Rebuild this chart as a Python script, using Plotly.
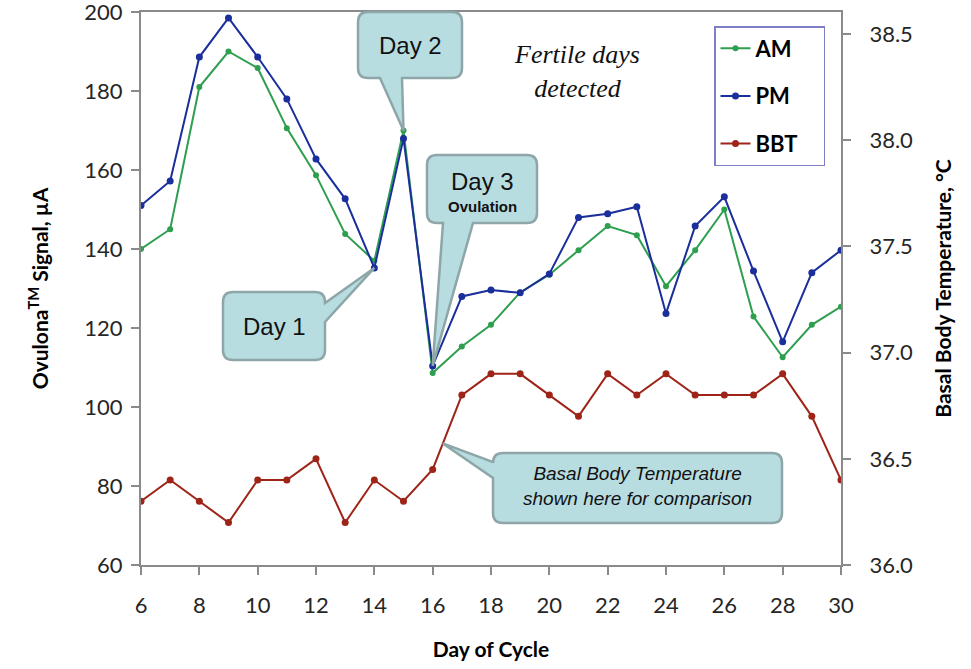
import plotly.graph_objects as go

# ---------------- data ----------------
days = list(range(6, 31))
am = [140, 145, 181, 190, 185.8, 170.6, 158.7, 143.8, 137, 170, 108.6, 115.3, 120.8,
      129, 133.5, 139.7, 145.8, 143.5, 130.6, 139.7, 150, 122.9, 112.6, 120.8, 125.4]
pm = [151, 157.2, 188.6, 198.5, 188.6, 178, 162.8, 152.7, 135.2, 168, 110.4, 128, 129.6,
      128.9, 133.7, 148, 148.9, 150.7, 123.7, 145.8, 153.2, 134.4, 116.5, 134, 139.7]
bbt = [36.3, 36.4, 36.3, 36.2, 36.4, 36.4, 36.5, 36.2, 36.4, 36.3, 36.45, 36.8, 36.9,
       36.9, 36.8, 36.7, 36.9, 36.8, 36.9, 36.8, 36.8, 36.8, 36.9, 36.7, 36.4]

x_ticks = list(range(6, 31, 2))
y1_ticks = list(range(60, 201, 20))
y2_ticks = [36.0, 36.5, 37.0, 37.5, 38.0, 38.5]

X_RANGE = [6, 30]
Y1_RANGE = [60, 200]
Y2_RANGE = [36.0, 38.604]

# ---------------- geometry ----------------
W, H = 971, 669
L, R, T, B = 141, 841, 12, 565


def px2paper(px, py):
    return (px - L) / (R - L), (B - py) / (B - T)


def data2px(x, y, yr=Y1_RANGE):
    px = L + (x - X_RANGE[0]) / (X_RANGE[1] - X_RANGE[0]) * (R - L)
    py = B - (y - yr[0]) / (yr[1] - yr[0]) * (B - T)
    return px, py


def callout_path(x0, y0, x1, y1, side, a, b, tip, r=10):
    pts = []

    def P(cmd, *xy):
        coords = []
        for i in range(0, len(xy), 2):
            xp, yp = px2paper(xy[i], xy[i + 1])
            coords.append(f"{xp:.5f},{yp:.5f}")
        pts.append(cmd + " ".join(coords))

    P("M", x0 + r, y0)
    P("L", x1 - r, y0)
    P("Q", x1, y0, x1, y0 + r)
    if side == "right":
        P("L", x1, a)
        P("L", *tip)
        P("L", x1, b)
    P("L", x1, y1 - r)
    P("Q", x1, y1, x1 - r, y1)
    if side == "bottom":
        P("L", b, y1)
        P("L", *tip)
        P("L", a, y1)
    P("L", x0 + r, y1)
    P("Q", x0, y1, x0, y1 - r)
    if side == "left":
        P("L", x0, b)
        P("L", *tip)
        P("L", x0, a)
    P("L", x0, y0 + r)
    P("Q", x0, y0, x0 + r, y0)
    return " ".join(pts) + " Z"


FILL = "#b8dde1"
EDGE = "#8ea6a8"

fig = go.Figure()

NB = "\u00a0" * 4
fig.add_trace(go.Scatter(x=days, y=am, name="AM" + NB, mode="lines+markers",
                         line=dict(color="#2e9e4f", width=2),
                         marker=dict(size=6, color="#2e9e4f"), legendgroup="a"))
fig.add_trace(go.Scatter(x=days, y=pm, name="PM" + NB, mode="lines+markers",
                         line=dict(color="#1a2e9c", width=2),
                         marker=dict(size=7, color="#1a2e9c"), legendgroup="b"))
fig.add_trace(go.Scatter(x=days, y=bbt, name="BBT" + NB, mode="lines+markers", yaxis="y2",
                         line=dict(color="#9e2418", width=2),
                         marker=dict(size=7, color="#9e2418"), legendgroup="c"))

shapes = []

# Day 2 callout
tip2 = data2px(days[9], am[9])
shapes.append(callout_path(358, 12, 462, 78, "bottom", 380, 402, tip2))
# Day 3 callout
tip3 = data2px(days[10], pm[10])
shapes.append(callout_path(427, 155, 537, 223, "bottom", 443, 473, tip3))
# Day 1 callout
tip1 = data2px(days[8], pm[8])
shapes.append(callout_path(223, 292, 325, 360, "right", 303, 322, tip1))
# BBT callout (tip on the BBT segment between day 16 and 17)
f = 0.35
tipb = data2px(days[10] + f, bbt[10] + f * (bbt[11] - bbt[10]), Y2_RANGE)
shapes.append(callout_path(493, 453, 782, 523, "left", 462, 478, tipb))

fig.update_layout(shapes=[dict(type="path", path=p, xref="paper", yref="paper",
                               fillcolor=FILL, line=dict(color=EDGE, width=2.5),
                               layer="above") for p in shapes])


def add_text(px, py, text, size, family="Liberation Sans", color="#111111"):
    xp, yp = px2paper(px, py)
    fig.add_annotation(x=xp, y=yp, xref="paper", yref="paper", text=text,
                       showarrow=False, xanchor="center", yanchor="middle",
                       font=dict(size=size, family=family, color=color))


add_text(410, 45, "Day 2", 24)
add_text(482, 181, "Day 3", 24)
add_text(482, 207, "<b>Ovulation</b>", 15)
add_text(274, 327, "Day 1", 24)
add_text(637, 486, "<i>Basal Body Temperature<br>shown here for comparison</i>", 19)
add_text(577, 71, "<i>Fertile days<br>detected</i>", 26, family="Liberation Serif")

AX = "#8a8a8a"
TICKFONT = dict(family="Lato", size=22, color="#262626")
TITLEFONT = dict(family="Lato", size=21, color="#000000")

fig.update_layout(
    width=W, height=H,
    margin=dict(l=L, r=W - R, t=T, b=H - B),
    paper_bgcolor="white", plot_bgcolor="white",
    showlegend=True,
    legend=dict(x=px2paper(825, 0)[0], y=px2paper(0, 26)[1], xanchor="right", yanchor="top",
                bordercolor="#7f7fc8", borderwidth=1.5, bgcolor="white",
                font=dict(family="Lato", size=22, color="#000000", weight="bold"),
                tracegroupgap=16, itemwidth=30),
    xaxis=dict(range=X_RANGE, tickvals=x_ticks, showgrid=False, zeroline=False,
               showline=True, linecolor=AX, linewidth=2, mirror=True, automargin=False,
               ticks="outside", ticklen=8, tickcolor=AX, tickwidth=1.5,
               tickfont=TICKFONT, ticklabelstandoff=12, ticklabeloverflow="allow",
               title=dict(text="<b>Day of Cycle</b>", font=TITLEFONT, standoff=25)),
    yaxis=dict(range=Y1_RANGE, tickvals=y1_ticks, showgrid=False, zeroline=False,
               showline=True, linecolor=AX, linewidth=2, automargin=False,
               ticks="outside", ticklen=8, tickcolor=AX, tickwidth=1.5,
               tickfont=TICKFONT, ticklabelstandoff=4, ticklabeloverflow="allow",
               title=dict(text="<b>Ovulona<sup>TM</sup> Signal, µA</b>", font=TITLEFONT,
                          standoff=30)),
    yaxis2=dict(range=Y2_RANGE, tickvals=y2_ticks, tickformat=".1f", overlaying="y",
                side="right", showgrid=False, zeroline=False, automargin=False,
                showline=True, linecolor=AX, linewidth=2,
                ticks="outside", ticklen=8, tickcolor=AX, tickwidth=1.5,
                tickfont=TICKFONT, ticklabelstandoff=14, ticklabeloverflow="allow",
                title=dict(text="<b>Basal Body Temperature, °C</b>", font=TITLEFONT,
                           standoff=24)),
)

fig.write_html("out.html", config={"displayModeBar": False},
               post_script="document.body.style.margin='0px';")
